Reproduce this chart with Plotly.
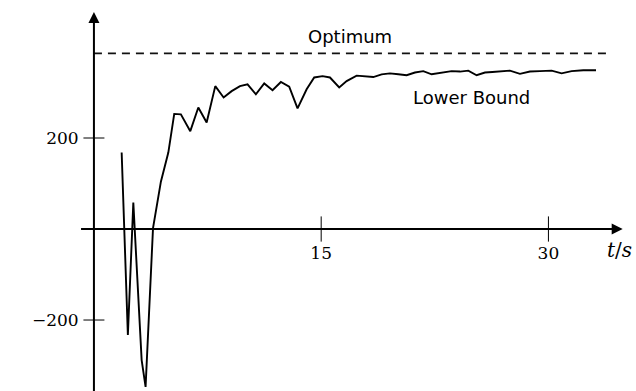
import plotly.graph_objects as go

# Lower bound curve (time in s, value)
t_vals = [1.83, 2.24, 2.60, 3.15, 3.41, 3.90, 4.42, 4.91, 5.30, 5.74, 6.36, 6.89, 7.44,
          8.01, 8.56, 9.09, 9.64, 10.14, 10.69, 11.24, 11.79, 12.34, 12.89, 13.44,
          14.04, 14.54, 15.09, 15.58, 16.19, 16.68, 17.34, 17.89, 18.44, 18.99, 19.54,
          20.09, 20.64, 21.19, 21.74, 22.29, 22.95, 23.61, 24.16, 24.71, 25.26, 25.81,
          26.30, 26.80, 27.46, 28.12, 28.78, 29.44, 30.21, 30.87, 31.53, 32.30, 33.14]
lb_vals = [168, -233, 58, -288, -347, 2, 104, 168, 253, 252, 215, 267, 234,
           314, 289, 303, 314, 318, 296, 320, 305, 323, 313, 265,
           307, 333, 336, 333, 311, 325, 337, 336, 334, 340, 342,
           340, 338, 344, 347, 340, 344, 347, 346, 348, 338, 344,
           345, 346, 348, 341, 346, 347, 348, 342, 347, 349, 349]

optimum_t = [0, 33.9]
optimum_vals = [386, 386]

x_ticks = [15, 30]
x_tick_labels = ["15", "30"]
y_ticks = [200, -200]
y_tick_labels = ["200", "\u2212200"]

fig = go.Figure()

fig.add_trace(go.Scatter(x=optimum_t, y=optimum_vals, mode="lines",
                         line=dict(color="#111", width=1.8, dash="8px,6px"),
                         hoverinfo="skip"))
fig.add_trace(go.Scatter(x=t_vals, y=lb_vals, mode="lines",
                         line=dict(color="black", width=1.9),
                         hoverinfo="skip"))
# tick marks crossing the axes
fig.add_trace(go.Scatter(x=x_ticks, y=[0] * len(x_ticks), mode="markers",
                         marker=dict(symbol="line-ns", size=18,
                                     line=dict(color="black", width=1)),
                         hoverinfo="skip"))
fig.add_trace(go.Scatter(x=[0] * len(y_ticks), y=y_ticks, mode="markers",
                         marker=dict(symbol="line-ew", size=15,
                                     line=dict(color="black", width=1)),
                         hoverinfo="skip"))

# axes lines with arrows
fig.add_annotation(x=34.9, y=0, ax=-0.95, ay=0, xref="x", yref="y", axref="x", ayref="y",
                   showarrow=True, arrowhead=2, arrowsize=1.1, arrowwidth=2,
                   arrowcolor="black", text="")
fig.add_annotation(x=0, y=477, ax=0, ay=-370, xref="x", yref="y", axref="x", ayref="y",
                   showarrow=True, arrowhead=2, arrowsize=1.1, arrowwidth=2,
                   arrowcolor="black", text="")

fig.add_annotation(x=33.75, y=0, xref="x", yref="y", text="<i>t</i>/<i>s</i>",
                   showarrow=False, xanchor="left", yanchor="top", yshift=-7,
                   font=dict(family="DejaVu Serif", size=20, color="black"))
fig.add_annotation(x=16.9, y=386, xref="x", yref="y", text="Optimum",
                   showarrow=False, yanchor="bottom", yshift=4,
                   font=dict(family="DejaVu Sans", size=18, color="black"))
fig.add_annotation(x=24.9, y=290, xref="x", yref="y", text="Lower Bound",
                   showarrow=False,
                   font=dict(family="DejaVu Sans", size=18, color="black"))

fig.update_layout(
    width=636, height=391,
    margin=dict(l=0, r=0, t=0, b=0),
    paper_bgcolor="white", plot_bgcolor="white",
    showlegend=False,
    xaxis=dict(range=[-6.2, 35.78], showgrid=False, zeroline=False, showline=False,
               anchor="free", position=0.4143,
               tickvals=x_ticks, ticktext=x_tick_labels,
               ticks="outside", ticklen=9, tickcolor="rgba(0,0,0,0)",
               tickfont=dict(family="DejaVu Serif", size=17, color="black")),
    yaxis=dict(range=[-356, 503.3], showgrid=False, zeroline=False, showline=False,
               anchor="free", position=0.1478,
               tickvals=y_ticks, ticktext=y_tick_labels,
               ticks="outside", ticklen=12, tickcolor="rgba(0,0,0,0)",
               tickfont=dict(family="DejaVu Serif", size=17, color="black")),
)

fig.write_html("out.html", config={"displayModeBar": False},
               post_script="document.body.style.margin='0px';document.body.style.overflow='hidden';")
